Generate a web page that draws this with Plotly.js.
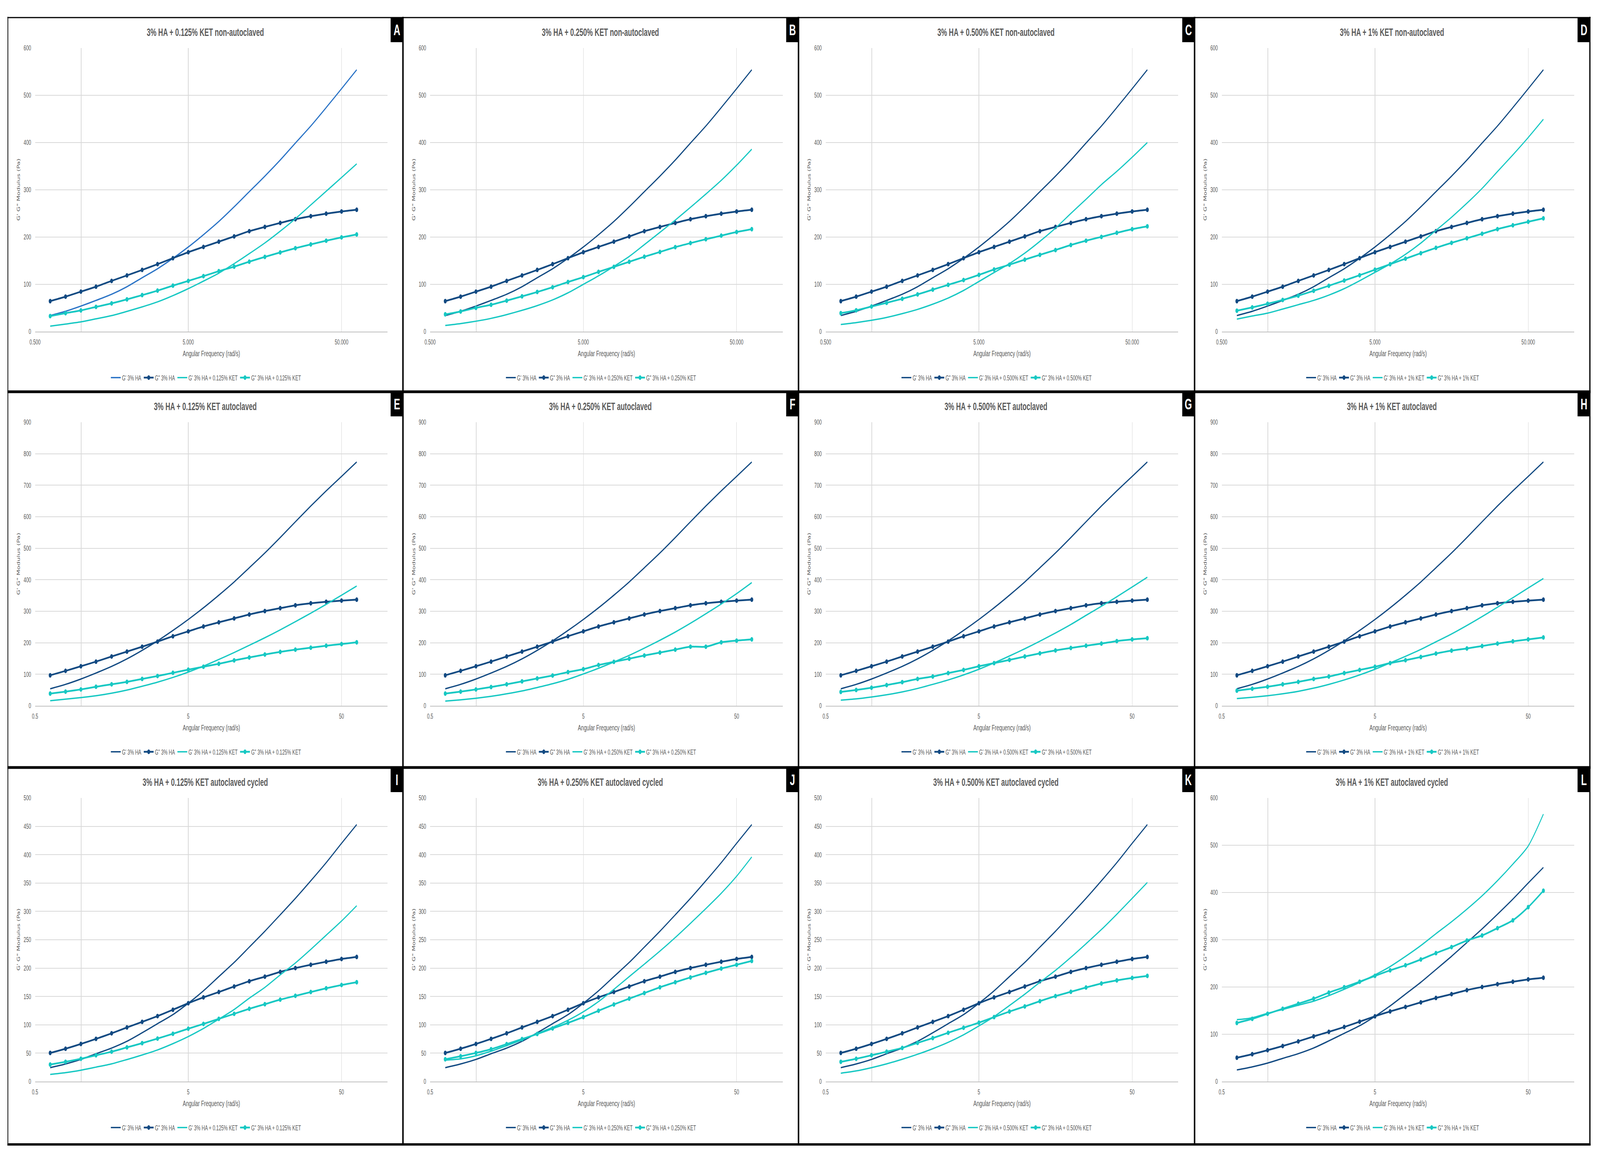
<!DOCTYPE html>
<html>
<head>
<meta charset="utf-8">
<script src="https://cdn.plot.ly/plotly-3.0.1.min.js"></script>
<style>
html,body{margin:0;padding:0;background:#fff;overflow:hidden;}
#wrap{position:absolute;left:0;top:0;overflow:hidden;width:6488px;height:2975px;}
#chart{width:6488px;height:2975px;transform-origin:0 0;}
</style>
</head>
<body>
<div id="wrap"><div id="chart"></div></div>
<script>
// ---------------- DATA ----------------
const freq = [0.628, 0.791, 0.996, 1.25, 1.58, 1.99, 2.50, 3.15, 3.97, 5.00, 6.28, 7.91, 9.96, 12.5, 15.8, 19.9, 25.0, 31.5, 39.7, 50.0, 62.8];

const xTickVals = [0.5, 5, 50];
const xTickTextRow1 = ['0.500', '5.000', '50.000'];
const xTickTextOther = ['0.5', '5', '50'];

// 3% HA reference series (one set per row)
const gpHA_nonAuto  = [34, 43, 54, 66, 79, 95, 114, 133, 155, 179, 205, 233, 264, 296, 329, 363, 399, 435, 474, 514, 554];
const gppHA_nonAuto = [64.5, 74, 84.6, 95.1, 107.3, 118.9, 130.5, 142.7, 155.4, 168, 179.2, 190.3, 201.4, 212.5, 221.5, 229.9, 237.8, 244.2, 249.5, 254.2, 257.9];
const gpHA_auto     = [54, 68, 85, 104, 125, 149, 176, 206, 239, 274, 311, 351, 393, 438, 485, 534, 584, 634, 682, 728, 774];
const gppHA_auto    = [96.8, 110.8, 125.5, 140.2, 156.5, 172, 187.5, 203.7, 220.8, 236.3, 251.7, 264.9, 277.3, 289.7, 300.5, 309.8, 319, 325.3, 330, 333.8, 337];
const gpHA_cycled   = [24.5, 31, 39, 49, 59, 71, 86, 102, 118, 138, 160, 185, 210, 237, 265, 294, 323, 354, 386, 420, 453];
const gppHA_cycled  = [50.4, 57.9, 66.3, 75.2, 85, 95.4, 105.2, 115.4, 126.6, 138.1, 148.4, 157.8, 167.6, 176.9, 184.9, 193.4, 200.1, 205.9, 211.2, 216.1, 219.7];

// KET series per panel
const gpKET_A  = [11.6, 15.9, 20.6, 27, 33.8, 42.8, 52.3, 62.9, 76.1, 90.9, 106.8, 123.7, 143.8, 164.9, 187.6, 212.5, 238.9, 268, 297, 326, 355];
const gppKET_A = [32.8, 39.1, 44.9, 52.3, 59.7, 68.2, 77.2, 86.7, 97.3, 107.3, 117.3, 127.9, 137.4, 148, 158, 167.5, 176.5, 184.5, 192.4, 199.3, 205.6];
const gpKET_B  = [13, 17, 22, 28, 36, 45, 55, 67, 82, 100, 118, 138, 159, 184, 210, 236, 263, 291, 320, 352, 386];
const gppKET_B = [36.5, 42.6, 50.3, 56.9, 65.5, 74.6, 83.8, 93.9, 105, 115.2, 126.4, 137, 147.7, 158.4, 168.5, 178.7, 187.3, 195.4, 203, 210.7, 216.8];
const gpKET_C  = [15, 19, 24, 30, 38, 47, 58, 71, 87, 106, 125, 144, 166, 191, 219, 250, 280, 311, 339, 369, 400];
const gppKET_C = [39, 45, 53, 61, 69.5, 78.7, 88.8, 99, 109, 120, 131.5, 141.6, 152.3, 162.4, 172.6, 183.2, 192.4, 200.5, 209, 216.8, 222.8];
const gpKET_D  = [26.4, 33, 39, 47.7, 56.9, 66, 77.2, 90.9, 107.6, 125.4, 143, 163.5, 187.3, 214.2, 242, 271.6, 303, 338.6, 374, 410.7, 449.2];
const gppKET_D = [44.2, 51.3, 58.9, 67, 76.1, 86.3, 97, 108.1, 119.3, 131, 142.6, 154.3, 166, 177.2, 187.8, 197.5, 207.1, 216.8, 224.9, 232.5, 239.6];
const gpKET_E  = [16, 21, 26, 32, 40, 50, 62, 75, 90, 107, 126, 147, 169, 192, 216, 241, 267, 294, 322, 351, 380];
const gppKET_E = [38.7, 44.9, 51.9, 60.4, 68.2, 75.9, 85.2, 94.5, 104.6, 114.6, 123.9, 133.2, 144, 153.4, 162.7, 171.2, 178.2, 184.4, 190.6, 196, 201.4];
const gpKET_F  = [15, 19, 24, 30, 38, 47, 58, 70, 84, 101, 119, 139, 160, 183, 208, 234, 262, 292, 323, 356, 391];
const gppKET_F = [38.7, 44.9, 51.9, 59.6, 68.2, 77.5, 86.8, 96.1, 106.9, 116.2, 129.4, 139.4, 149.5, 159.6, 168.9, 178.2, 187.5, 187.5, 201.4, 206.8, 210.7];
const gpKET_G  = [18, 22, 28, 35, 44, 55, 68, 82, 98, 116, 136, 158, 181, 205, 231, 258, 287, 316, 346, 377, 408];
const gppKET_G = [44.1, 50.3, 57.3, 65.8, 75.1, 85.2, 92.9, 103.8, 113.8, 125.5, 135.5, 145.6, 156.5, 166.5, 175.8, 183.6, 190.6, 197.5, 205.3, 210.7, 214.6];
const gpKET_H  = [23, 27, 32, 38, 46, 56, 68, 82, 98, 116, 136, 157, 179, 203, 228, 255, 283, 313, 343, 374, 404];
const gppKET_H = [48, 54.2, 60.4, 68.2, 75.9, 85.2, 92.9, 103.8, 113.8, 123.9, 135.5, 144.8, 154.9, 165.7, 175, 182, 189.8, 197.5, 204.5, 210.7, 216.9];
const gpKET_I  = [12.5, 15.6, 20, 25.4, 31.2, 38.8, 46.8, 55.7, 66.8, 79.3, 93.6, 110, 127, 147, 166, 188, 209, 233, 258, 283, 310];
const gppKET_I = [29.9, 34.8, 40.1, 46.3, 52.6, 60.2, 67.7, 75.8, 84.2, 93.1, 101.6, 110.5, 119.4, 128.3, 136.4, 144.4, 151.1, 157.8, 164.4, 170.2, 175.1];
const gpKET_J  = [37.9, 40, 45.5, 53.5, 63.3, 73.5, 84.7, 95.5, 108, 123, 141, 162.5, 185, 207, 230, 254, 279, 305, 332, 362, 396];
const gppKET_J = [39.2, 44.6, 50.4, 57, 66, 74.9, 83.8, 93.6, 103.4, 113.6, 124.8, 135.9, 146.2, 156, 166.2, 175.1, 183.6, 191.6, 199.2, 205.9, 212.6];
const gpKET_K  = [14.7, 18.7, 24.5, 31.2, 39.2, 48.1, 57.9, 69.1, 82.4, 98, 114.5, 134, 154, 175, 196, 219, 243, 268, 295, 323, 351];
const gppKET_K = [34.8, 40.1, 46.3, 52.6, 59.3, 68.2, 76.6, 86, 94.9, 103.8, 113.6, 123.4, 132.4, 141.7, 150.6, 158.2, 165.8, 172.9, 178.3, 182.7, 186.3];
const gpKET_L  = [131, 134.8, 144.4, 152.4, 161.5, 170, 181.8, 195.2, 209.6, 225.7, 243.3, 264.7, 287.7, 312.8, 338, 364.7, 393, 425, 460, 498.4, 565.8];
const gppKET_L = [124, 132.6, 143.3, 154, 164.7, 175.4, 188.2, 199.5, 211.2, 223.5, 235.3, 246, 258.3, 271.7, 284.5, 298.4, 309.1, 324.6, 341.2, 369, 403.7];

const panelLetters = ['A','B','C','D','E','F','G','H','I','J','K','L'];
const ketLabels = ['0.125%', '0.250%', '0.500%', '1%'];
const rowConditions = ['non-autoclaved', 'autoclaved', 'autoclaved cycled'];
const yMaxes  = [600, 600, 600, 600, 900, 900, 900, 900, 500, 500, 500, 600];
const yDticks = [100, 100, 100, 100, 100, 100, 100, 100, 50, 50, 50, 100];

const xTitle = 'Angular Frequency (rad/s)';
const yTitle = 'G\' G" Modulus (Pa)';

// ---------------- BUILD ----------------
const gpKET  = [gpKET_A, gpKET_B, gpKET_C, gpKET_D, gpKET_E, gpKET_F, gpKET_G, gpKET_H, gpKET_I, gpKET_J, gpKET_K, gpKET_L];
const gppKET = [gppKET_A, gppKET_B, gppKET_C, gppKET_D, gppKET_E, gppKET_F, gppKET_G, gppKET_H, gppKET_I, gppKET_J, gppKET_K, gppKET_L];
const refGp  = [gpHA_nonAuto, gpHA_auto, gpHA_cycled];
const refGpp = [gppHA_nonAuto, gppHA_auto, gppHA_cycled];

const W = 6488, H = 2975;
const colX = [32, 1634, 3238, 4844];
const colR = [1634, 3238, 4844, 6447];
const rowY = [45, 1003, 1965];
const px = v => v / W;
const py = v => 1 - v / H;

const SANS = '"Liberation Sans", Arial, sans-serif';
const GREY = '#595959';
const NAVY = '#124a82';
const LIGHTBLUE = '#2a73c6';
const TEAL = '#17c8c3';

const traces = [];
const layout = {
  width: W, height: H,
  margin: {l: 0, r: 0, t: 0, b: 0},
  paper_bgcolor: '#ffffff', plot_bgcolor: '#ffffff',
  showlegend: true,
  shapes: [], annotations: []
};

for (let i = 0; i < 12; i++) {
  const r = Math.floor(i / 4), c = i % 4;
  const x0 = colX[c], y0 = rowY[r];
  const n = i === 0 ? '' : String(i + 1);
  const xa = 'x' + n, ya = 'y' + n;
  const legKey = 'legend' + n;
  const ket = ketLabels[c];
  const gpHAColor = (i === 0) ? LIGHTBLUE : NAVY;

  layout['xaxis' + n] = {
    type: 'log', range: [Math.log10(0.5), 2],
    domain: [px(x0 + 110), px(x0 + 1540)], anchor: ya,
    tickvals: xTickVals, ticktext: r === 0 ? xTickTextRow1 : xTickTextOther,
    showgrid: true, gridcolor: '#d9d9d9', gridwidth: 2,
    showline: true, linecolor: '#bfbfbf', linewidth: 2,
    zeroline: false, ticks: '', ticklabelstandoff: 9,
    tickfont: {family: SANS, size: 18, color: GREY}, fixedrange: true
  };
  layout['yaxis' + n] = {
    range: [0, yMaxes[i]], tick0: 0, dtick: yDticks[i],
    domain: [py(y0 + 804), py(y0 + 78)], anchor: xa,
    showgrid: true, gridcolor: '#d9d9d9', gridwidth: 2,
    showline: false, zeroline: false, ticks: '', ticklabelstandoff: 15,
    tickfont: {family: SANS, size: 18, color: GREY}, fixedrange: true
  };

  layout[legKey] = {
    orientation: 'h', x: px(x0 + 803), y: py(y0 + 922),
    xanchor: 'center', yanchor: 'middle',
    font: {family: SANS, size: 18, color: GREY},
    bgcolor: 'rgba(0,0,0,0)', traceorder: 'normal', itemwidth: 40
  };

  const common = {x: freq, xaxis: xa, yaxis: ya, legend: legKey, hoverinfo: 'skip'};
  traces.push(Object.assign({}, common, {
    y: refGp[r], name: "G' 3% HA", mode: 'lines',
    line: {color: gpHAColor, width: 3.5, shape: 'spline', smoothing: 0.8}
  }));
  traces.push(Object.assign({}, common, {
    y: refGpp[r], name: 'G" 3% HA', mode: 'lines+markers',
    line: {color: NAVY, width: 4.5, shape: 'spline', smoothing: 0.8},
    marker: {symbol: 'circle', size: 12, color: NAVY}
  }));
  traces.push(Object.assign({}, common, {
    y: gpKET[i], name: "G' 3% HA + " + ket + ' KET', mode: 'lines',
    line: {color: TEAL, width: 3.5, shape: 'spline', smoothing: 0.8}
  }));
  traces.push(Object.assign({}, common, {
    y: gppKET[i], name: 'G" 3% HA + ' + ket + ' KET', mode: 'lines+markers',
    line: {color: TEAL, width: 4.5, shape: 'spline', smoothing: 0.8},
    marker: {symbol: 'circle', size: 12, color: TEAL}
  }));

  // extra vertical gridline at 1 rad/s
  layout.shapes.push({type: 'line', xref: xa, yref: ya + ' domain', x0: 1, x1: 1, y0: 0, y1: 1,
    line: {color: '#c6c6c6', width: 2}, layer: 'below'});

  // panel label box
  layout.shapes.push({type: 'rect', xref: 'paper', yref: 'paper',
    x0: px(colR[c] - 50), x1: px(colR[c]), y0: py(y0 + 63), y1: py(y0),
    fillcolor: '#000000', line: {width: 0}, layer: 'above'});
  layout.annotations.push({xref: 'paper', yref: 'paper', x: px(colR[c] - 25), y: py(y0 + 32),
    text: '<b>' + panelLetters[i] + '</b>', showarrow: false, xanchor: 'center', yanchor: 'middle',
    font: {family: SANS, size: 38, color: '#ffffff'}});

  // title
  layout.annotations.push({xref: 'paper', yref: 'paper', x: px(x0 + 800), y: py(y0 + 38),
    text: '<b>3% HA + ' + ket + ' KET ' + rowConditions[r] + '</b>', showarrow: false,
    xanchor: 'center', yanchor: 'middle',
    font: {family: SANS, size: 27, color: GREY}});
  // x title
  layout.annotations.push({xref: 'paper', yref: 'paper', x: px(x0 + 825), y: py(y0 + 860),
    text: xTitle, showarrow: false, xanchor: 'center', yanchor: 'middle',
    font: {family: SANS, size: 20, color: GREY}});
  // y title
  layout.annotations.push({xref: 'paper', yref: 'paper', x: px(x0 + 43), y: py(y0 + 441),
    text: yTitle, showarrow: false, xanchor: 'center', yanchor: 'middle', textangle: -90,
    font: {family: '"DejaVu Sans", Verdana, sans-serif', size: 17, color: GREY}});
}

// panel borders
const hLines = [[45, 3], [1003, 7], [1965, 7], [2930, 6]];
const vLines = [[32, 3], [1634, 6], [3238, 6], [4844, 6], [6447, 5]];
hLines.forEach(([y, w]) => layout.shapes.push({type: 'line', xref: 'paper', yref: 'paper',
  x0: px(30), x1: px(6450), y0: py(y), y1: py(y), line: {color: '#000000', width: w}, layer: 'above'}));
vLines.forEach(([x, w]) => layout.shapes.push({type: 'line', xref: 'paper', yref: 'paper',
  x0: px(x), x1: px(x), y0: py(43), y1: py(2933), line: {color: '#000000', width: w}, layer: 'above'}));

// map the fixed 6488x2975 drawing onto the whole visible window
function fitToViewport() {
  const vw = window.innerWidth || W, vh = window.innerHeight || H;
  let sx = vw / W, sy = vh / H;
  if (!isFinite(sx) || sx <= 0) sx = 1;
  if (!isFinite(sy) || sy <= 0) sy = 1;
  const wrap = document.getElementById('wrap');
  const chart = document.getElementById('chart');
  wrap.style.width = (W * sx) + 'px';
  wrap.style.height = (H * sy) + 'px';
  chart.style.transform = 'scale(' + sx + ',' + sy + ')';
}

Plotly.newPlot('chart', traces, layout, {displayModeBar: false, staticPlot: true}).then(fitToViewport);
</script>
</body>
</html>
